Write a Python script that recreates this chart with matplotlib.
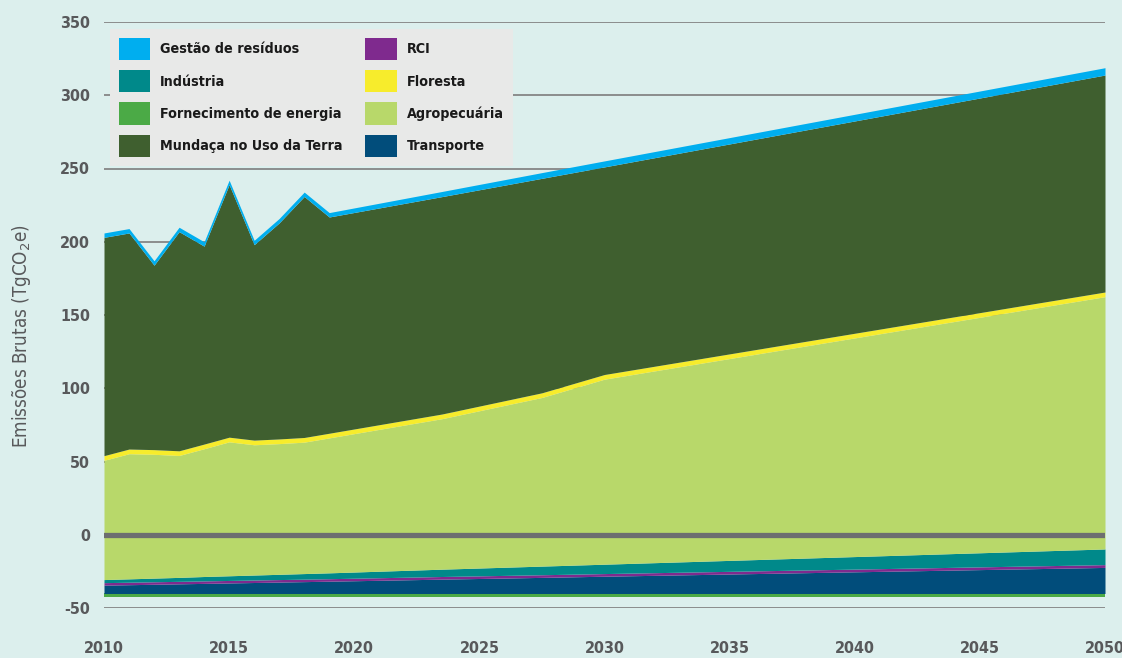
import matplotlib
matplotlib.use("Agg")
import matplotlib.pyplot as plt
from matplotlib.patches import Patch
import numpy as np

plt.rcParams["axes.unicode_minus"] = False

# ---- data (TgCO2e) ----
years = [2010, 2011, 2012, 2013, 2014, 2015, 2016, 2017, 2018, 2019, 2023.5, 2027.5, 2030, 2050]
baseline = -42.8
fornecimento = [2.7, 2.7, 2.7, 2.7, 2.7, 2.7, 2.7, 2.7, 2.7, 2.7, 2.7, 2.7, 2.7, 2.7]
transporte = [5.7, 6.0, 6.3, 6.6, 6.9, 7.2, 7.5, 7.8, 8.1, 8.4, 9.8, 11.0, 11.8, 17.8]
rci = [1.7, 1.7, 1.7, 1.7, 1.7, 1.7, 1.7, 1.7, 1.7, 1.7, 1.8, 1.8, 1.8, 1.9]
industria = [2.1, 2.3, 2.5, 2.7, 3.0, 3.2, 3.4, 3.6, 3.8, 4.0, 5.0, 5.9, 6.4, 10.7]
agropecuaria = [81.4, 85.4, 84.5, 83.2, 87.2, 91.4, 88.9, 89.2, 89.7, 92.1, 102.7, 115.1, 126.3, 172.2]
floresta = [3.2, 3.2, 3.2, 3.2, 3.2, 3.2, 3.2, 3.2, 3.2, 3.2, 3.2, 3.2, 3.2, 3.2]
mudanca = [149.0, 147.5, 125.9, 149.6, 135.1, 172.4, 133.4, 147.5, 164.5, 147.6, 148.4, 146.4, 141.7, 148.1]
residuos = [3.0, 3.0, 3.0, 3.0, 3.0, 3.0, 3.0, 3.0, 3.0, 3.0, 3.5, 3.9, 4.1, 5.0]

x_ticks = [2010, 2015, 2020, 2025, 2030, 2035, 2040, 2045, 2050]
y_ticks = [-50, 0, 50, 100, 150, 200, 250, 300, 350]

labels = {
    "residuos": "Gestão de resíduos",
    "industria": "Indústria",
    "fornecimento": "Fornecimento de energia",
    "mudanca": "Mundaça no Uso da Terra",
    "rci": "RCI",
    "floresta": "Floresta",
    "agropecuaria": "Agropecuária",
    "transporte": "Transporte",
}
colors = {
    "residuos": "#00AEEF",
    "industria": "#00898A",
    "fornecimento": "#4BAA46",
    "mudanca": "#3F5F2F",
    "rci": "#7F2A8E",
    "floresta": "#F7EC2C",
    "agropecuaria": "#B8D86A",
    "transporte": "#014D7B",
}
stack_order = [("fornecimento", fornecimento), ("transporte", transporte), ("rci", rci),
               ("industria", industria), ("agropecuaria", agropecuaria), ("floresta", floresta),
               ("mudanca", mudanca), ("residuos", residuos)]
legend_order = ["residuos", "industria", "fornecimento", "mudanca",
                "rci", "floresta", "agropecuaria", "transporte"]

BG = "#DCEFED"
TXT = "#58595B"
FONT = ["DejaVu Sans"]

fig = plt.figure(figsize=(11.22, 6.58), dpi=100, facecolor=BG)
ax = fig.add_axes([104 / 1122, 1 - 608 / 658, 1001 / 1122, 586 / 658])
ax.set_facecolor(BG)

x = np.array(years, dtype=float)
lower = np.full_like(x, baseline)
for key, vals in stack_order:
    upper = lower + np.array(vals, dtype=float)
    ax.fill_between(x, lower, upper, color=colors[key], lw=0, zorder=2)
    lower = upper

ax.axhline(0, color="#6D6E70", lw=3.8, zorder=3)

ax.set_xlim(2010, 2050)
ax.set_ylim(-50, 350)
ax.set_xticks(x_ticks)
ax.set_yticks(y_ticks)
ax.yaxis.grid(True, color="#858585", lw=1.3, zorder=0)
ax.set_axisbelow(True)
for s in ax.spines.values():
    s.set_visible(False)
ax.tick_params(axis="both", length=0, colors=TXT)
ax.tick_params(axis="x", pad=24)
ax.tick_params(axis="y", pad=10)
for lab in ax.get_xticklabels() + ax.get_yticklabels():
    lab.set_fontfamily(FONT)
    lab.set_fontweight("bold")
    lab.set_fontsize(11.5)
    lab.set_fontstretch("condensed")

fig.text(22 / 1122, 1 - 336 / 658, "Emissões Brutas (TgCO$_2$e)", rotation=90,
         ha="center", va="center", color=TXT, family=FONT, fontsize=13.5,
         fontstretch="condensed")

handles = [Patch(facecolor=colors[k], edgecolor="none") for k in legend_order]
leg = ax.legend(handles, [labels[k] for k in legend_order], ncol=2,
                loc="upper left", bbox_to_anchor=(0.006, 0.988), borderaxespad=0,
                prop={"family": FONT, "weight": "bold", "size": 10.3, "stretch": "condensed"},
                facecolor="#E8E9E8", edgecolor="none", framealpha=1, fancybox=False,
                handlelength=2.2, handleheight=2.0, labelspacing=0.72,
                columnspacing=1.6, handletextpad=0.7, borderpad=0.6)
for t in leg.get_texts():
    t.set_color("#1A1A1A")
leg.set_zorder(5)

fig.savefig("out.png", dpi=100, facecolor=BG)
